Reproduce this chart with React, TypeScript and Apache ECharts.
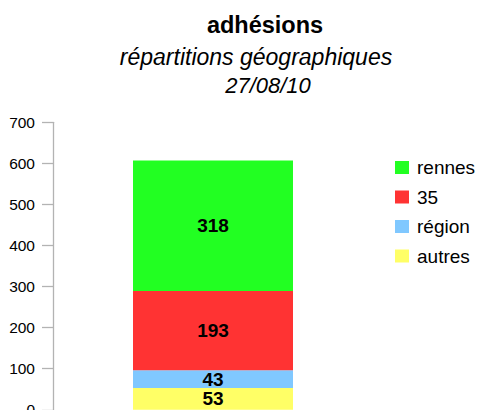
import React, { useEffect, useRef } from "react";
import * as echarts from "echarts";

const categories = [""];
const seriesNames = ["autres", "région", "35", "rennes"];
const autres = [53];
const region = [43];
const trentecinq = [193];
const rennes = [318];
const colors = ["#ffff66", "#80c8ff", "#ff3333", "#22ff22"];
const legendOrder = ["rennes", "35", "région", "autres"];
const yTicks = { min: 0, max: 700, interval: 100 };
const titleText = "adhésions";
const subtitleLines = ["répartitions géographiques", "27/08/10"];

const FONT = "'Liberation Sans', Arial, sans-serif";

export default function App() {
  const ref = useRef<HTMLDivElement>(null);
  useEffect(() => {
    document.body.style.margin = "0";
    const chart = echarts.init(ref.current!, null, { renderer: "svg" });
    const values = [autres, region, trentecinq, rennes];
    chart.setOption({
      animation: false,
      backgroundColor: "#ffffff",
      textStyle: { fontFamily: FONT },
      graphic: [
        {
          type: "text",
          x: 265,
          y: 25,
          style: {
            text: titleText,
            font: `bold 23.5px ${FONT}`,
            fill: "#000",
            textAlign: "center",
            textVerticalAlign: "middle",
          },
        },
        {
          type: "text",
          x: 256,
          y: 57,
          style: {
            text: subtitleLines[0],
            font: `italic 23px ${FONT}`,
            fill: "#000",
            textAlign: "center",
            textVerticalAlign: "middle",
          },
        },
        {
          type: "text",
          x: 268,
          y: 85.5,
          style: {
            text: subtitleLines[1],
            font: `italic 22px ${FONT}`,
            fill: "#000",
            textAlign: "center",
            textVerticalAlign: "middle",
          },
        },
      ],
      legend: {
        orient: "vertical",
        left: 390,
        top: 153,
        data: legendOrder,
        itemWidth: 14,
        itemHeight: 13,
        itemGap: 10.5,
        icon: "rect",
        textStyle: {
          fontSize: 19,
          color: "#000",
          fontFamily: FONT,
          padding: [0, 0, 0, 3],
        },
      },
      grid: {
        left: 53,
        right: 108,
        top: 122.3,
        bottom: 0.2,
        outerBoundsMode: "none",
        containLabel: false,
      },
      xAxis: {
        type: "category",
        data: categories,
        show: false,
      },
      yAxis: {
        type: "value",
        min: yTicks.min,
        max: yTicks.max,
        interval: yTicks.interval,
        axisLine: { show: true, lineStyle: { color: "#b3b3b3", width: 1.3 } },
        axisTick: { show: true, length: 11, lineStyle: { color: "#b3b3b3", width: 1.3 } },
        axisLabel: { fontSize: 15.5, color: "#000", margin: 18, fontFamily: FONT },
        splitLine: { show: false },
      },
      series: seriesNames.map((name, i) => ({
        name,
        type: "bar",
        stack: "total",
        barWidth: 160,
        data: values[i],
        itemStyle: { color: colors[i] },
        label: {
          show: true,
          position: "inside",
          color: "#000",
          fontWeight: "bold",
          fontSize: 19,
          fontFamily: FONT,
        },
      })),
    });
    return () => chart.dispose();
  }, []);
  return <div ref={ref} style={{ width: 481, height: 410 }} />;
}
